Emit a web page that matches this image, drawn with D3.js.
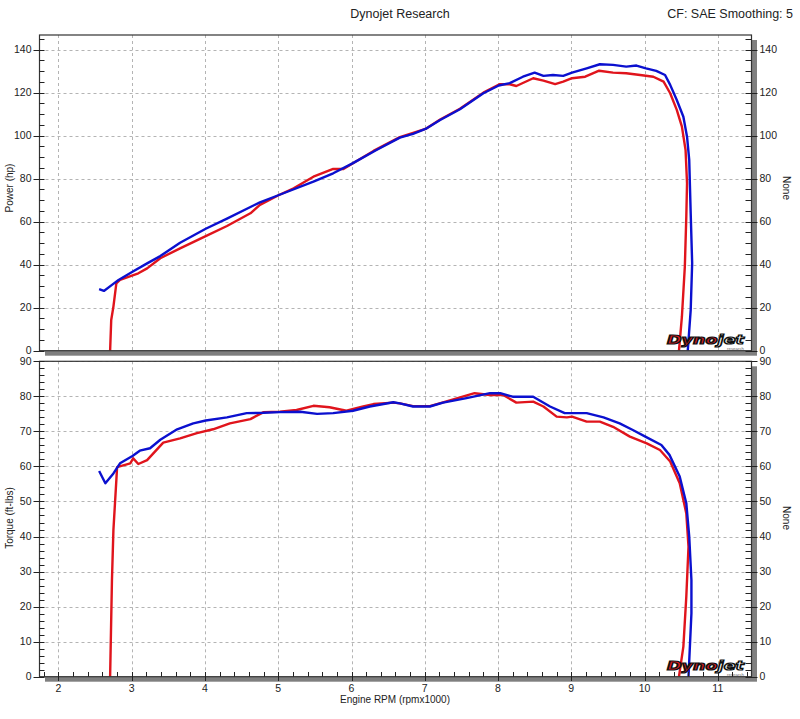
<!DOCTYPE html>
<html><head><meta charset="utf-8">
<script src="https://cdn.jsdelivr.net/npm/d3@7"></script>
<style>
html,body{margin:0;padding:0;background:#fff;}
svg text{font-family:"Liberation Sans",Arial,sans-serif;fill:#222;}
</style></head>
<body><svg id="c" width="800" height="719"></svg>
<script>
// ---- data (rpm x1000, value) ----
const bluePowerRpm = [2.555,2.62,2.73,2.82,3.01,3.21,3.39,3.66,4.01,4.30,4.75,5.01,5.48,5.75,6.02,6.34,6.66,6.84,7.01,7.21,7.48,7.80,8.01,8.16,8.34,8.50,8.62,8.75,8.89,9.01,9.21,9.39,9.57,9.75,9.89,10.02,10.16,10.28,10.35,10.44,10.53,10.58,10.61,10.63,10.65,10.63,10.59];
const bluePower    = [28.6,27.8,30.6,32.9,36.7,40.6,44.0,50.2,56.7,61.4,69.0,72.4,78.6,82.5,87.2,93.3,99.1,100.8,103.1,107.3,112.3,119.7,123.3,124.4,127.4,129.3,127.8,128.2,127.8,129.3,131.3,133.2,132.9,132.1,132.6,131.3,130.1,128.2,123.6,116.6,108.8,99.5,88.7,63.9,40.7,18.9,0];
const redPowerRpm  = [2.705,2.72,2.75,2.79,2.84,3.09,3.21,3.39,3.66,4.01,4.30,4.62,4.75,5.01,5.21,5.48,5.75,5.89,6.02,6.30,6.66,7.01,7.21,7.48,7.80,8.02,8.16,8.25,8.48,8.62,8.78,8.89,9.01,9.19,9.38,9.57,9.75,9.94,10.12,10.26,10.35,10.44,10.51,10.56,10.58,10.57,10.55,10.51,10.47];
const redPower     = [0,14.3,20.5,31.3,32.9,36.0,38.3,43.0,47.6,53.3,58.0,63.9,67.8,72.4,75.5,80.9,84.5,84.5,87.2,92.9,99.3,103.1,107.5,112.5,120.0,123.9,123.9,123.1,126.7,125.6,124.0,125.1,126.7,127.4,130.2,129.3,129.0,128.2,127.4,125.1,119.7,112.0,104.2,93.3,77.9,62.3,39.1,15.8,0];
const blueTorqueRpm = [2.555,2.64,2.75,2.84,3.01,3.11,3.25,3.39,3.62,3.84,4.01,4.30,4.57,4.80,5.02,5.30,5.53,5.75,6.02,6.25,6.57,6.66,6.84,7.07,7.25,7.57,7.89,8.03,8.20,8.48,8.71,8.91,9.21,9.44,9.66,9.84,10.03,10.23,10.34,10.48,10.57,10.61,10.64,10.64,10.60];
const blueTorque    = [58.7,55.2,58.0,60.9,63.0,64.5,65.2,67.6,70.6,72.3,73.1,74.0,75.2,75.3,75.5,75.6,75.0,75.2,75.9,77.1,78.3,78.0,77.1,77.1,78.2,79.5,80.9,80.9,79.9,79.9,77.1,75.2,75.2,74.0,72.3,70.4,68.3,66.1,63.3,57.1,49.5,40.0,27.6,18.1,0];
const redTorqueRpm  = [2.705,2.73,2.75,2.79,2.80,2.98,3.02,3.09,3.21,3.43,3.66,3.89,4.11,4.34,4.62,4.80,5.02,5.25,5.48,5.70,5.93,6.16,6.30,6.57,6.66,6.84,7.07,7.25,7.68,7.89,8.07,8.25,8.48,8.62,8.80,8.94,9.01,9.21,9.39,9.57,9.80,10.03,10.21,10.35,10.48,10.57,10.60,10.57,10.53,10.47];
const redTorque     = [0,27.6,41.9,56.1,59.8,60.9,62.3,60.7,61.8,66.8,68.0,69.5,70.6,72.3,73.5,75.5,75.6,76.1,77.3,76.9,75.9,77.1,77.8,78.2,78.0,77.2,77.2,78.3,80.9,80.4,80.4,78.2,78.5,77.1,74.2,74.0,74.2,72.8,72.8,71.3,68.5,66.6,64.7,61.4,55.2,46.6,37.1,22.8,8.6,0];

const xTicks = [2,3,4,5,6,7,8,9,10,11];
const powerTicks = [0,20,40,60,80,100,120,140];
const torqueTicks = [0,10,20,30,40,50,60,70,80,90];
const titleText = "Dynojet Research";
const cfText = "CF: SAE Smoothing: 5";
const xTitle = "Engine RPM (rpmx1000)";

// ---- layout ----
const svg = d3.select("#c");
const L = 39.5, R = 751.5;
const x = d3.scaleLinear().domain([1.741, 11.46]).range([L, R]);

svg.append("text").attr("x",400).attr("y",18).attr("text-anchor","middle")
  .style("font-size","12.5px").text(titleText);
svg.append("text").attr("x",793).attr("y",18).attr("text-anchor","end")
  .style("font-size","12.5px").text(cfText);

function panel(cfg){
  const y = d3.scaleLinear().domain(cfg.domain).range([cfg.bottom, cfg.top]);
  const g = svg.append("g");
  // shadow
  g.append("rect").attr("x",L+5.5).attr("y",cfg.top+5).attr("width",R-L).attr("height",cfg.bottom-cfg.top)
    .attr("fill","#7f7f7f");
  g.append("rect").attr("x",L).attr("y",cfg.top).attr("width",R-L).attr("height",cfg.bottom-cfg.top)
    .attr("fill","#fff");
  // grid
  const grid = g.append("g").attr("stroke","#b4b4b4").attr("stroke-width",1).attr("stroke-dasharray","3,3");
  xTicks.forEach(t=>{ grid.append("line").attr("x1",Math.round(x(t))+0.5).attr("x2",Math.round(x(t))+0.5)
      .attr("y1",cfg.top).attr("y2",cfg.bottom); });
  cfg.ticks.forEach(t=>{ if(t===0) return; grid.append("line").attr("x1",L).attr("x2",R)
      .attr("y1",Math.round(y(t))+0.5).attr("y2",Math.round(y(t))+0.5); });

  // curves
  const line = d3.line().x(d=>x(d[0])).y(d=>y(d[1]));
  cfg.series.forEach(s=>{
    g.append("path").datum(d3.zip(s.rpm,s.val)).attr("d",line)
      .attr("fill","none").attr("stroke",s.color).attr("stroke-width",2.4).attr("stroke-linejoin","round");
  });

  // logo
  const lg = g.append("g").attr("transform",`translate(667,${cfg.bottom-6.5})`);
  const lt = lg.append("text").attr("x",0).attr("y",0)
     .attr("textLength",77).attr("lengthAdjust","spacingAndGlyphs")
     .style("font-family","'DejaVu Sans',sans-serif").style("font-size","12px")
     .style("font-weight","900").style("font-style","italic");
  lt.append("tspan").text("Dyno").style("fill","#e01b22").attr("stroke","#111").attr("stroke-width",1.2);
  lt.append("tspan").text("jet").style("fill","#fff").attr("stroke","#111").attr("stroke-width",1.2);
  lg.append("text").attr("x",60).attr("y",5.9).attr("textLength",17).attr("lengthAdjust","spacingAndGlyphs")
     .style("font-size","3px").style("fill","#666").text("research");

  // frame
  g.append("rect").attr("x",L).attr("y",cfg.top).attr("width",R-L).attr("height",cfg.bottom-cfg.top)
    .attr("fill","none").attr("stroke","#333").attr("stroke-width",1.2);

  // y axes ticks
  const ax = g.append("g").attr("stroke","#222").attr("stroke-width",1);
  const minor = d3.range(0, cfg.domain[1]+0.001, cfg.minor);
  minor.forEach(t=>{
    const yy = Math.round(y(t))+0.5;
    const major = cfg.ticks.includes(t);
    ax.append("line").attr("x1",major?L-6:L).attr("x2",L+5).attr("y1",yy).attr("y2",yy);
    ax.append("line").attr("x1",R-6).attr("x2",major?R+6:R).attr("y1",yy).attr("y2",yy);
  });
  cfg.ticks.forEach(t=>{
    g.append("text").attr("x",L-8).attr("y",y(t)+3.5).attr("text-anchor","end")
      .style("font-size","10.5px").text(t);
    g.append("text").attr("x",R+8).attr("y",y(t)+3.5).attr("text-anchor","start")
      .style("font-size","10.5px").text(t);
  });
  g.append("text").attr("transform",`translate(13,${cfg.titleY}) rotate(-90)`).attr("text-anchor","middle")
    .style("font-size","10px").text(cfg.title);
  g.append("text").attr("transform",`translate(783,${cfg.titleY}) rotate(90)`).attr("text-anchor","middle")
    .style("font-size","10px").text("None");
  return {g,y};
}

panel({top:35, bottom:350.7, domain:[0,146.8], ticks:powerTicks, minor:5, title:"Power (hp)", titleY:188,
  series:[{rpm:redPowerRpm,val:redPower,color:"#e0141c"},{rpm:bluePowerRpm,val:bluePower,color:"#0b10cf"}]});
panel({top:361.3, bottom:676.7, domain:[0,90], ticks:torqueTicks, minor:2, title:"Torque (ft-lbs)", titleY:518,
  series:[{rpm:redTorqueRpm,val:redTorque,color:"#e0141c"},{rpm:blueTorqueRpm,val:blueTorque,color:"#0b10cf"}]});

// x axis ticks (bottom panel)
const xa = svg.append("g").attr("stroke","#222").attr("stroke-width",1);
d3.range(1.8, 11.41, 0.2).forEach(t=>{
  const xx = Math.round(x(t))+0.5;
  const major = Math.abs(t-Math.round(t))<1e-6;
  xa.append("line").attr("x1",xx).attr("x2",xx).attr("y1",672).attr("y2",major?681:676.7);
});
xTicks.forEach(t=>{
  svg.append("text").attr("x",x(t)).attr("y",692).attr("text-anchor","middle")
    .style("font-size","10.5px").text(t);
});
svg.append("text").attr("x",395).attr("y",703).attr("text-anchor","middle")
  .style("font-size","10px").text(xTitle);
</script></body></html>
